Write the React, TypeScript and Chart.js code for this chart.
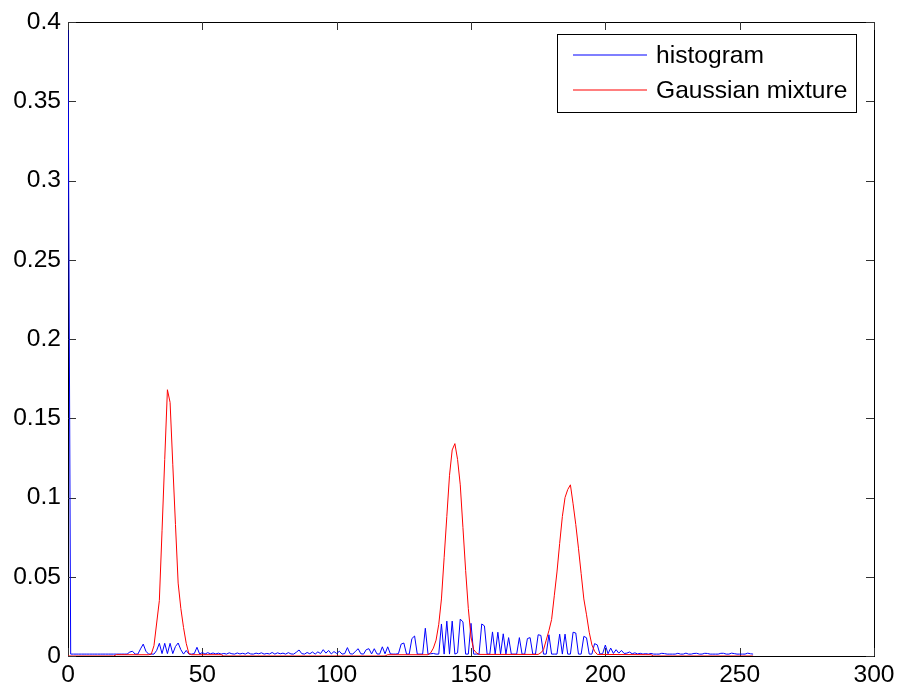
import React, { useEffect, useRef } from "react";
import { Chart, registerables } from "chart.js";

Chart.register(...registerables);

const histLabel = "histogram";
const gmmLabel = "Gaussian mixture";

// histogram value of each grey level 0..255
const histValues = [
  0.395, 0.0012, 0.0012, 0.0012, 0.0012, 0.0012, 0.0012, 0.0012, 0.0012, 0.0012, 0.0012, 0.0012, 0.0012, 0.0012, 0.0012, 0.0012,
  0.0012, 0.0012, 0.0012, 0.0012, 0.0012, 0.0012, 0.0012, 0.0025, 0.003, 0.0012, 0.0012, 0.0045, 0.0075, 0.003, 0.0012, 0.0012,
  0.0012, 0.0035, 0.008, 0.0015, 0.008, 0.0015, 0.008, 0.0015, 0.006, 0.0082, 0.004, 0.0012, 0.0035, 0.0012, 0.0012, 0.0015,
  0.0055, 0.0012, 0.0022, 0.0012, 0.0021, 0.0014, 0.0019, 0.0013, 0.0018, 0.0012, 0.0016, 0.0012, 0.002, 0.0014, 0.0012, 0.0019,
  0.0013, 0.0017, 0.0012, 0.0021, 0.0013, 0.0012, 0.0018, 0.0014, 0.002, 0.0012, 0.0016, 0.0013, 0.0022, 0.0012, 0.002, 0.0014,
  0.0018, 0.0012, 0.0021, 0.0013, 0.0012, 0.0024, 0.0038, 0.0015, 0.0012, 0.0022, 0.0014, 0.0025, 0.0012, 0.0026, 0.0015, 0.004,
  0.0018, 0.0035, 0.0013, 0.0028, 0.0016, 0.003, 0.0012, 0.0015, 0.0053, 0.0014, 0.0012, 0.003, 0.0046, 0.0014, 0.0012, 0.004,
  0.0046, 0.0013, 0.0046, 0.0013, 0.0012, 0.0058, 0.0014, 0.0058, 0.0013, 0.0012, 0.0012, 0.0015, 0.0075, 0.0082, 0.0012, 0.0012,
  0.011, 0.0126, 0.0012, 0.0012, 0.0012, 0.0175, 0.0012, 0.0014, 0.0016, 0.0012, 0.0012, 0.0202, 0.0012, 0.022, 0.0012, 0.022,
  0.0012, 0.002, 0.0233, 0.0215, 0.0012, 0.0012, 0.0206, 0.0012, 0.0012, 0.0012, 0.0202, 0.019, 0.0012, 0.0012, 0.0152, 0.0012,
  0.015, 0.0012, 0.014, 0.0012, 0.0116, 0.0012, 0.0012, 0.0012, 0.0116, 0.0012, 0.0012, 0.011, 0.0116, 0.0012, 0.0012, 0.0134,
  0.013, 0.0012, 0.0012, 0.0134, 0.0012, 0.0012, 0.0012, 0.0138, 0.0012, 0.0138, 0.0012, 0.0012, 0.015, 0.0145, 0.0012, 0.0012,
  0.0124, 0.0115, 0.0012, 0.0012, 0.0078, 0.007, 0.0012, 0.0015, 0.0069, 0.0014, 0.005, 0.0016, 0.004, 0.0018, 0.0035, 0.0016,
  0.0018, 0.0025, 0.0014, 0.002, 0.0013, 0.0017, 0.0012, 0.0015, 0.0012, 0.0016, 0.0012, 0.0012, 0.0012, 0.0017, 0.0015, 0.0012,
  0.0012, 0.0012, 0.0012, 0.0017, 0.0012, 0.0012, 0.0018, 0.0012, 0.0012, 0.0016, 0.0017, 0.0012, 0.0012, 0.0017, 0.0016, 0.0012,
  0.0012, 0.0012, 0.0012, 0.0017, 0.0017, 0.0012, 0.0012, 0.0018, 0.0015, 0.0012, 0.0012, 0.0012, 0.0012, 0.0018, 0.0014, 0.0012,
];

// Gaussian mixture curve (grey level, density)
const gmmX = [
  0, 17, 18, 30, 31, 32, 34, 35, 36, 37, 38, 39, 40, 41, 42, 43, 44, 45, 46, 57, 58,
  118, 119, 134, 135, 136, 137, 138, 139, 140, 141, 142, 143, 144, 145, 146, 147, 148, 149, 150, 151, 152, 153,
  175, 176, 177, 178, 179, 180, 181, 182, 183, 184, 185, 186, 187, 188, 189, 190, 191, 192, 193, 194, 195, 196, 197,
  217, 218, 255,
];
const gmmY = [
  0, 0, 0.0008, 0.0008, 0.0012, 0.0065, 0.035, 0.079, 0.124, 0.168, 0.16, 0.121, 0.083, 0.046, 0.03, 0.018, 0.008, 0.0015, 0.0008, 0.0008, 0,
  0, 0.0008, 0.0008, 0.002, 0.005, 0.01, 0.02, 0.036, 0.062, 0.088, 0.114, 0.13, 0.134, 0.124, 0.108, 0.081, 0.054, 0.03, 0.012, 0.004, 0.002, 0.001,
  0.001, 0.002, 0.004, 0.01, 0.016, 0.023, 0.038, 0.053, 0.071, 0.088, 0.1, 0.105, 0.108, 0.096, 0.083, 0.068, 0.052, 0.036, 0.026, 0.015, 0.007, 0.003, 0.001,
  0.0008, 0, 0,
];

const xTickValues = [0, 50, 100, 150, 200, 250, 300];
const xTickLabels = ["0", "50", "100", "150", "200", "250", "300"];
const yTickValues = [0, 0.05, 0.1, 0.15, 0.2, 0.25, 0.3, 0.35, 0.4];
const yTickLabels = ["0", "0.05", "0.1", "0.15", "0.2", "0.25", "0.3", "0.35", "0.4"];

const FONT = "'Liberation Sans', Arial, Helvetica, sans-serif";
const FONT_SIZE = 24.6;

const framePlugin = {
  id: "matlabFrame",
  beforeDatasetsDraw(chart: any) {
    const { ctx, chartArea: a, scales } = chart;
    ctx.save();
    ctx.strokeStyle = "#000";
    ctx.lineWidth = 1;
    ctx.strokeRect(a.left + 0.5, a.top + 0.5, a.right - a.left, a.bottom - a.top);
    const L = 8;
    ctx.strokeStyle = "#333";
    ctx.beginPath();
    xTickValues.forEach((v) => {
      const x = Math.round(scales.x.getPixelForValue(v)) + 0.5;
      ctx.moveTo(x, a.bottom);
      ctx.lineTo(x, a.bottom - L);
      ctx.moveTo(x, a.top);
      ctx.lineTo(x, a.top + L);
    });
    yTickValues.forEach((v) => {
      const y = Math.round(scales.y.getPixelForValue(v)) + 0.5;
      ctx.moveTo(a.left, y);
      ctx.lineTo(a.left + L, y);
      ctx.moveTo(a.right, y);
      ctx.lineTo(a.right - L, y);
    });
    ctx.stroke();
    ctx.restore();
  },
  afterDraw(chart: any) {
    const { ctx } = chart;
    const bx = 557, by = 34, bw = 299, bh = 78;
    ctx.save();
    ctx.fillStyle = "#fff";
    ctx.fillRect(bx, by, bw, bh);
    ctx.strokeStyle = "#000";
    ctx.lineWidth = 1;
    ctx.strokeRect(bx + 0.5, by + 0.5, bw, bh);
    const rows = [55, 90];
    chart.data.datasets.forEach((ds: any, i: number) => {
      const y = rows[i];
      ctx.strokeStyle = ds.borderColor;
      ctx.lineWidth = 1.2;
      ctx.beginPath();
      ctx.moveTo(573, y);
      ctx.lineTo(647, y);
      ctx.stroke();
      ctx.fillStyle = "#000";
      ctx.font = `${FONT_SIZE}px ${FONT}`;
      ctx.textAlign = "left";
      ctx.textBaseline = "middle";
      ctx.fillText(ds.label, 656, y + 1);
    });
    ctx.restore();
  },
};

export default function App() {
  const ref = useRef<HTMLCanvasElement | null>(null);

  useEffect(() => {
    if (!ref.current) return;
    const histData = histValues.map((v, i) => ({ x: i, y: v }));
    const gmmData = gmmX.map((x, i) => ({ x, y: gmmY[i] }));
    const chart = new Chart(ref.current, {
      type: "line",
      data: {
        datasets: [
          {
            label: histLabel,
            data: histData,
            borderColor: "#0000ff",
            borderWidth: 1,
            pointRadius: 0,
            tension: 0,
            order: 2,
          },
          {
            label: gmmLabel,
            data: gmmData,
            borderColor: "#ff0000",
            borderWidth: 1,
            pointRadius: 0,
            tension: 0,
            order: 1,
          },
        ],
      },
      options: {
        animation: false,
        responsive: false,
        devicePixelRatio: 1,
        layout: { padding: { left: 0, right: 28, top: 22, bottom: 0 } },
        plugins: { legend: { display: false }, tooltip: { enabled: false } },
        events: [],
        scales: {
          x: {
            type: "linear",
            min: 0,
            max: 300,
            grid: { display: false, drawTicks: false },
            border: { display: false },
            ticks: {
              padding: 4,
              color: "#000",
              font: { family: FONT, size: FONT_SIZE },
              maxRotation: 0,
              autoSkip: false,
              callback: (_v: any, i: number) => xTickLabels[i],
            },
            afterBuildTicks: (s: any) => {
              s.ticks = xTickValues.map((v) => ({ value: v }));
            },
            afterFit: (s: any) => {
              s.height = 34;
              s.paddingLeft = 0;
              s.paddingRight = 0;
            },
          },
          y: {
            type: "linear",
            min: 0,
            max: 0.4,
            grid: { display: false, drawTicks: false },
            border: { display: false },
            ticks: {
              padding: 7,
              color: "#000",
              font: { family: FONT, size: FONT_SIZE },
              autoSkip: false,
              callback: (_v: any, i: number) => yTickLabels[i],
            },
            afterBuildTicks: (s: any) => {
              s.ticks = yTickValues.map((v) => ({ value: v }));
            },
            afterFit: (s: any) => {
              s.width = 68;
              s.paddingTop = 0;
              s.paddingBottom = 0;
            },
          },
        },
      },
      plugins: [framePlugin],
    });
    return () => chart.destroy();
  }, []);

  return (
    <div style={{ position: "absolute", left: 0, top: 0, width: 902, height: 690, background: "#fff" }}>
      <canvas ref={ref} width={902} height={690} style={{ display: "block" }} />
    </div>
  );
}
